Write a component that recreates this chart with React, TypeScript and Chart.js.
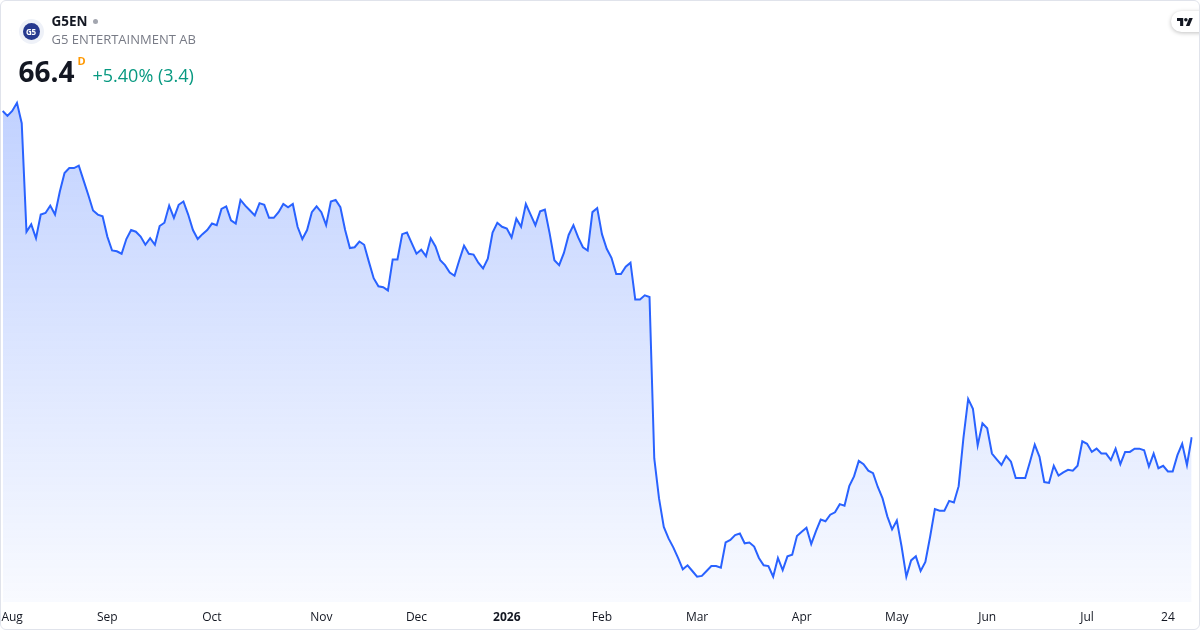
import React, { useEffect, useRef } from 'react';
import { Chart, registerables } from 'chart.js';

Chart.register(...registerables);

// Daily closes (SEK), G5 Entertainment AB, 2025-07-31 .. 2026-07-31
const closes: number[] = [
  106.4, 105.8, 106.4, 107.4, 104.9, 91.6, 92.5, 90.8, 93.7, 93.9,
  94.8, 93.7, 96.5, 98.8, 99.4, 99.4, 99.7, 97.9, 96.1, 94.2,
  93.7, 93.5, 91.0, 89.3, 89.2, 88.9, 90.7, 91.8, 91.6, 91.0,
  90.0, 90.8, 90.0, 92.3, 92.7, 94.8, 93.3, 94.9, 95.3, 93.7,
  91.8, 90.7, 91.3, 91.8, 92.6, 92.4, 94.4, 94.7, 93.0, 92.6,
  95.5, 94.8, 94.2, 93.6, 95.1, 94.9, 93.3, 93.3, 94.0, 95.0,
  94.6, 95.0, 92.2, 90.7, 91.8, 94.0, 94.7, 94.0, 92.4, 95.3,
  95.5, 94.6, 91.8, 89.6, 89.7, 90.4, 90.0, 87.9, 85.9, 84.9,
  84.8, 84.4, 88.2, 88.2, 91.3, 91.5, 90.2, 88.9, 89.4, 88.6,
  90.8, 89.8, 88.1, 87.5, 86.6, 86.2, 88.1, 89.9, 88.9, 88.8,
  87.8, 87.1, 88.3, 91.5, 92.7, 92.2, 92.0, 90.9, 93.2, 92.2,
  95.0, 93.7, 92.4, 94.1, 94.3, 91.4, 88.1, 87.5, 89.0, 91.2,
  92.4, 90.9, 89.7, 89.3, 94.0, 94.5, 91.3, 89.5, 88.4, 86.4,
  86.4, 87.3, 87.8, 83.3, 83.3, 83.8, 83.6, 63.8, 58.9, 55.4,
  54.0, 52.9, 51.6, 50.2, 50.7, 50.0, 49.3, 49.4, 50.0, 50.6,
  50.6, 50.4, 53.5, 53.8, 54.4, 54.6, 53.4, 53.5, 53.0, 51.6,
  50.7, 50.6, 49.3, 51.6, 50.1, 51.8, 52.0, 54.3, 54.8, 55.3,
  53.3, 54.9, 56.3, 56.1, 56.9, 57.2, 58.2, 58.0, 60.4, 61.6,
  63.5, 63.1, 62.3, 62.0, 60.3, 58.9, 56.7, 55.1, 56.2, 53.0,
  49.3, 51.3, 51.8, 50.0, 51.1, 54.2, 57.6, 57.4, 57.4, 58.6,
  58.4, 60.4, 66.3, 71.1, 69.9, 65.4, 68.1, 67.5, 64.4, 63.7,
  63.0, 64.1, 63.4, 61.4, 61.4, 61.4, 63.4, 65.5, 64.0, 60.9,
  60.8, 62.9, 61.7, 62.1, 62.4, 62.3, 62.9, 65.9, 65.6, 64.6,
  65.0, 64.4, 64.4, 63.6, 65.0, 63.1, 64.6, 64.6, 65.0, 65.0,
  64.8, 62.8, 64.4, 62.6, 62.9, 62.2, 62.2, 64.2, 65.6, 63.0,
  66.4,
];

// Trading calendar (Nasdaq Stockholm)
const firstDay = '2025-07-31';
const lastDay = '2026-07-31';
const holidays: string[] = [
  '2025-12-24', '2025-12-25', '2025-12-26', '2025-12-31',
  '2026-01-01', '2026-01-06', '2026-04-03', '2026-04-06',
  '2026-05-01', '2026-05-14', '2026-06-19',
];

// X-axis tick labels
const tickDates: string[] = [
  '2025-08-01', '2025-09-01', '2025-10-01', '2025-11-03', '2025-12-01', '2026-01-02',
  '2026-02-02', '2026-03-02', '2026-04-01', '2026-05-04', '2026-06-01', '2026-07-01', '2026-07-24',
];
const tickLabels: string[] = [
  'Aug', 'Sep', 'Oct', 'Nov', 'Dec', '2026', 'Feb', 'Mar', 'Apr', 'May', 'Jun', 'Jul', '24',
];
const boldTickLabels: string[] = ['2026'];

const symbol = 'G5EN';
const companyName = 'G5 ENTERTAINMENT AB';
const lastPrice = '66.4';
const changeText = '+5.40% (3.4)';

function tradingDays(start: string, end: string, closed: string[]): string[] {
  const out: string[] = [];
  const s = new Date(start + 'T00:00:00Z').getTime();
  const e = new Date(end + 'T00:00:00Z').getTime();
  for (let t = s; t <= e; t += 86400000) {
    const d = new Date(t);
    const wd = d.getUTCDay();
    const iso = d.toISOString().slice(0, 10);
    if (wd === 0 || wd === 6) continue;
    if (closed.includes(iso)) continue;
    out.push(iso);
  }
  return out;
}

const dates = tradingDays(firstDay, lastDay, holidays);

const FONT = '"Open Sans", "Noto Sans", sans-serif';

function PriceChart() {
  const ref = useRef<HTMLCanvasElement | null>(null);
  useEffect(() => {
    if (!ref.current) return;
    const chart = new Chart(ref.current, {
      type: 'line',
      data: {
        labels: dates,
        datasets: [
          {
            data: closes,
            borderColor: '#2962FF',
            borderWidth: 2,
            pointRadius: 0,
            pointHoverRadius: 0,
            tension: 0,
            fill: 'start',
            backgroundColor: (ctx: any) => {
              const c = ctx.chart;
              const area = c.chartArea;
              if (!area) return 'rgba(41,98,255,0.15)';
              const g = c.ctx.createLinearGradient(0, area.top, 0, area.bottom);
              g.addColorStop(0, 'rgba(41,98,255,0.30)');
              g.addColorStop(1, 'rgba(41,98,255,0.03)');
              return g;
            },
          },
        ],
      },
      options: {
        animation: false,
        responsive: false,
        maintainAspectRatio: false,
        layout: { padding: { left: 2.7, right: 8.3, top: 80, bottom: 5.6 } },
        plugins: {
          legend: { display: false },
          tooltip: { enabled: false },
        },
        scales: {
          x: {
            type: 'category',
            grid: {
              display: true,
              drawOnChartArea: false,
              drawTicks: true,
              tickLength: 8,
              color: 'rgba(0,0,0,0)',
            },
            border: { display: false },
            ticks: {
              autoSkip: false,
              maxRotation: 0,
              minRotation: 0,
              padding: 0,
              color: '#131722',
              font: (ctx: any) => {
                const i = tickDates.indexOf(dates[ctx.index]);
                const bold = i >= 0 && boldTickLabels.includes(tickLabels[i]);
                return { family: FONT, size: 12, weight: bold ? 'bold' : 'normal' };
              },
              callback: (_v: any, index: number) => {
                const i = tickDates.indexOf(dates[index]);
                if (i < 0) return '';
                return i === 0 ? '   ' + tickLabels[i] : tickLabels[i];
              },
            },
          },
          y: {
            display: false,
            min: 46.2,
            max: 110.2,
          },
        },
      },
    });
    return () => chart.destroy();
  }, []);
  return (
    <canvas
      ref={ref}
      width={1200}
      height={630}
      style={{ position: 'absolute', left: 0, top: 0, width: 1200, height: 630 }}
    />
  );
}

function TvLogo() {
  return (
    <div
      style={{
        position: 'absolute', left: 1171, top: 11, width: 44, height: 21,
        background: '#fff', borderRadius: 11, boxShadow: '0 1px 4px rgba(0,0,0,0.25)',
      }}
    >
      <svg width={16} height={8} viewBox="0 4 36 18" style={{ position: 'absolute', left: 6, top: 6.5 }}>
        <path d="M14 22H7V11H0V4h14v18z" fill="#131722" />
        <path d="M28 22h-8l7.5-18h8L28 22z" fill="#131722" />
        <circle cx="20" cy="8" r="4" fill="#131722" />
      </svg>
    </div>
  );
}

export default function App() {
  useEffect(() => {
    document.body.style.margin = '0';
  }, []);
  return (
    <div
      style={{
        position: 'absolute', left: 0, top: 0, width: 1200, height: 630,
        overflow: 'hidden', background: '#ffffff', fontFamily: FONT,
      }}
    >
      <PriceChart />
      {/* logo */}
      <div
        style={{
          position: 'absolute', left: 18.5, top: 18.5, width: 25, height: 25,
          borderRadius: '50%', background: '#eef1f8',
        }}
      >
        <div
          style={{
            position: 'absolute', left: 4, top: 4, width: 17, height: 17, borderRadius: '50%',
            background: '#26398f', color: '#fff', fontSize: 8, fontWeight: 700,
            lineHeight: '17px', textAlign: 'center', letterSpacing: -0.3,
          }}
        >
          G5
        </div>
      </div>
      <div
        style={{
          position: 'absolute', left: 51.5, top: 12.5, fontSize: 13.5, lineHeight: '16px',
          fontWeight: 700, color: '#131722', whiteSpace: 'nowrap',
        }}
      >
        {symbol}
      </div>
      <div
        style={{
          position: 'absolute', left: 92.5, top: 18.5, width: 5, height: 5,
          borderRadius: '50%', background: '#a3a6af',
        }}
      />
      <div
        style={{
          position: 'absolute', left: 51.5, top: 31, fontSize: 13, lineHeight: '16px',
          color: '#787b86', whiteSpace: 'nowrap',
        }}
      >
        {companyName}
      </div>
      <div
        style={{
          position: 'absolute', left: 18.5, top: 55, fontSize: 28, lineHeight: '32px',
          fontWeight: 700, color: '#131722', whiteSpace: 'nowrap',
        }}
      >
        {lastPrice}
      </div>
      <div
        style={{
          position: 'absolute', left: 77.5, top: 53.5, fontSize: 11, lineHeight: '14px',
          fontWeight: 700, color: '#ff9800',
        }}
      >
        D
      </div>
      <div
        style={{
          position: 'absolute', left: 92.5, top: 63.5, fontSize: 18, lineHeight: '22px',
          color: '#089981', whiteSpace: 'nowrap',
        }}
      >
        {changeText}
      </div>
      <TvLogo />
      <div
        style={{
          position: 'absolute', left: 0, top: 0, width: 1200, height: 630,
          boxSizing: 'border-box', border: '1px solid #e0e3eb', borderRadius: 6,
          pointerEvents: 'none',
        }}
      />
    </div>
  );
}
